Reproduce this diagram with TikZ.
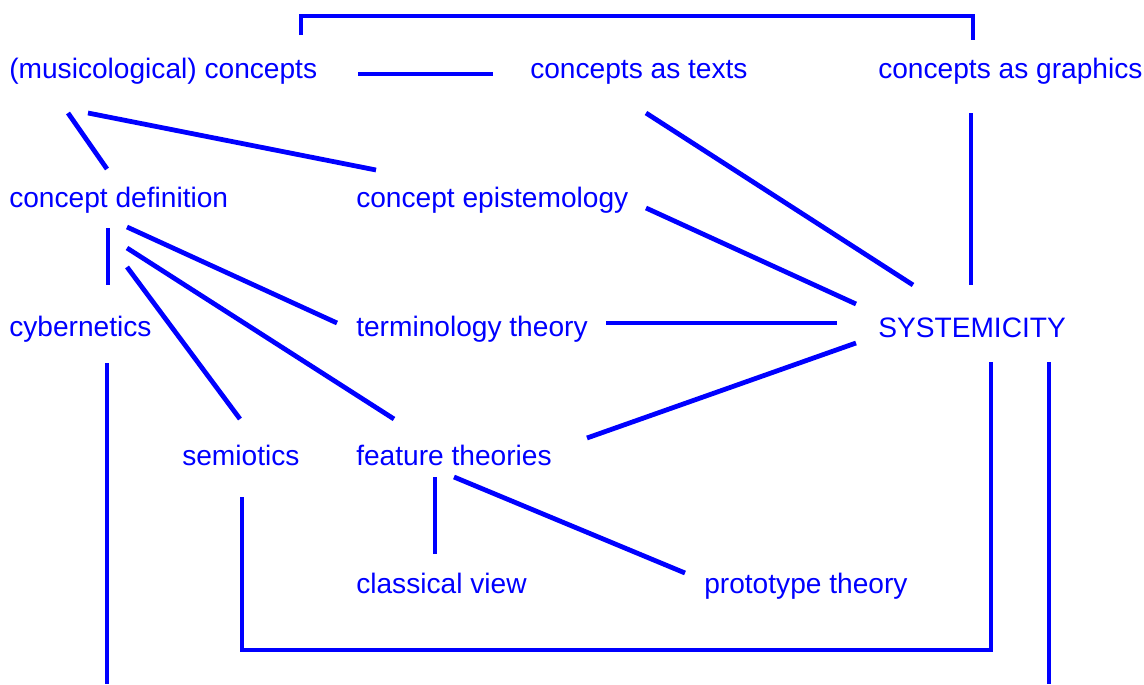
\documentclass[tikz,border=0pt]{standalone}
\usepackage{fontspec}
\setsansfont{Liberation Sans}
\usepackage{xcolor}
\usepackage{tikz}
\usetikzlibrary{positioning}
\definecolor{mapblue}{RGB}{0, 0, 255}

\begin{document}
\begin{tikzpicture}[
  x=0.025cm,
  y=-0.025cm,
  font=\sffamily\fontsize{20pt}{24pt}\selectfont,
  concept/.style={text=mapblue, inner sep=0pt, anchor=base west},
  link/.style={draw=mapblue, line width=3.4pt}
]

\useasboundingbox (0,0) rectangle (1144,684);

% row 1
\node[concept] (musico)   at (9, 78)   {(musicological) concepts};
\node[concept] (texts)    at (530, 78) {concepts as texts};
\node[concept] (graphics) at (878, 78) {concepts as graphics};

% row 2
\node[concept] (cdef) at (9, 207)   {concept definition};
\node[concept] (cepi) at (356, 207) {concept epistemology};

% row 3
\node[concept] (cyber) at (9, 336)   {cybernetics};
\node[concept] (term)  at (356, 336) {terminology theory};
\node[concept] (sys)   at (878, 337) {SYSTEMICITY};

% row 4
\node[concept] (semio) at (182, 465) {semiotics};
\node[concept] (feat)  at (356, 465) {feature theories};

% row 5
\node[concept] (classical) at (356, 593) {classical view};
\node[concept] (proto)     at (704, 593) {prototype theory};

% brackets
\draw[link] ([shift={(292,-43)}]musico.base west) -- ++(0,-19)
  -| ([shift={(95,-38)}]graphics.base west);
\draw[link] ([shift={(60,32)}]semio.base west) -- ++(0,153)
  -| ([shift={(113,25)}]sys.base west);

% top part
\draw[link] ([shift={(349,-4)}]musico.base west) -- ([shift={(-37,-4)}]texts.base west);
\draw[link] ([shift={(59,35)}]musico.base west) -- ([shift={(98,-38)}]cdef.base west);
\draw[link] ([shift={(79,35)}]musico.base west) -- ([shift={(20,-37)}]cepi.base west);
\draw[link] ([shift={(116,35)}]texts.base west) -- ([shift={(35,-52)}]sys.base west);
\draw[link] ([shift={(93,35)}]graphics.base west) -- ([shift={(93,-52)}]sys.base west);
\draw[link] ([shift={(290,1)}]cepi.base west) -- ([shift={(-22,-33)}]sys.base west);

% concept definition
\draw[link] ([shift={(99,21)}]cdef.base west) -- ([shift={(99,-51)}]cyber.base west);
\draw[link] ([shift={(118,20)}]cdef.base west) -- ([shift={(-19,-13)}]term.base west);
\draw[link] ([shift={(118,41)}]cdef.base west) -- ([shift={(38,-46)}]feat.base west);
\draw[link] ([shift={(118,60)}]cdef.base west) -- ([shift={(58,-46)}]semio.base west);

% systemicity
\draw[link] ([shift={(250,-13)}]term.base west) -- ([shift={(-41,-14)}]sys.base west);
\draw[link] ([shift={(-22,6)}]sys.base west) -- ([shift={(231,-27)}]feat.base west);

% feature theories
\draw[link] ([shift={(79,12)}]feat.base west) -- ([shift={(79,-39)}]classical.base west);
\draw[link] ([shift={(98,12)}]feat.base west) -- ([shift={(-19,-20)}]proto.base west);

% open ends
\draw[link] ([shift={(98,27)}]cyber.base west) -- ++(0,321);
\draw[link] ([shift={(171,25)}]sys.base west) -- ++(0,322);

\end{tikzpicture}
\end{document}
